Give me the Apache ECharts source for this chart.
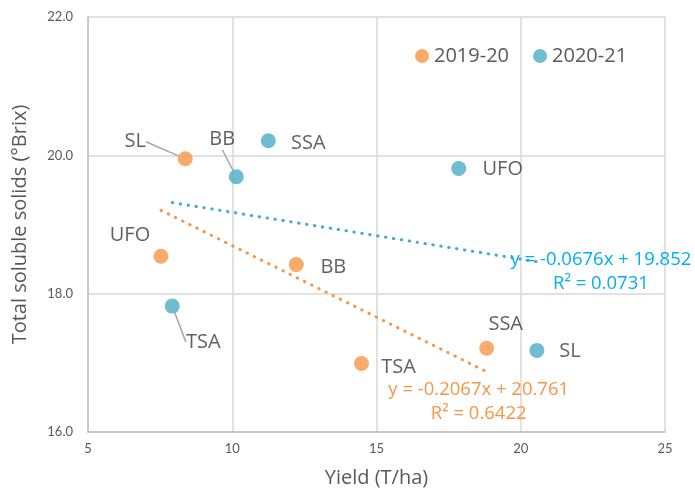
<!DOCTYPE html>
<html>
<head>
<meta charset="utf-8">
<script src="https://cdn.jsdelivr.net/npm/echarts@6/dist/echarts.min.js"></script>
<style>
  html, body { margin: 0; padding: 0; background: #fff; }
  #chart { width: 695px; height: 493px; }
</style>
</head>
<body>
<div id="chart"></div>
<script>
  // 2019-20 season
  const names1920 = ['SL', 'UFO', 'BB', 'TSA', 'SSA'];
  const yield1920 = [8.37, 7.53, 12.22, 14.48, 18.82];
  const tss1920 = [19.95, 18.54, 18.42, 16.99, 17.21];
  // 2020-21 season
  const names2021 = ['BB', 'SSA', 'UFO', 'TSA', 'SL'];
  const yield2021 = [10.14, 11.25, 17.85, 7.92, 20.56];
  const tss2021 = [19.69, 20.21, 19.81, 17.82, 17.18];
  // trend lines (from the equations shown on the chart)
  const trend1920 = { slope: -0.2067, intercept: 20.761, r2: '0.6422' };
  const trend2021 = { slope: -0.0676, intercept: 19.852, r2: '0.0731' };

  // label offsets (px) relative to each point, and which ones have a leader line
  const offs1920 = [[-50, -17], [-31, -21], [37, 3], [37, 4], [19, -24]];
  const lead1920 = [true, false, false, false, false];
  const offs2021 = [[-14, -37], [40, 2], [44, 1], [31, 36], [33, 1]];
  const lead2021 = [true, false, false, true, false];

  const orange = '#F79646';
  const blue = '#4BACC6';

  function pts(xs, ys, names, leads) {
    return xs.map((x, i) => ({
      value: [x, ys[i]],
      name: names[i],
      labelLine: { show: leads[i] }
    }));
  }

  function trendData(t, xs) {
    const lo = Math.min.apply(null, xs), hi = Math.max.apply(null, xs);
    return [[lo, t.slope * lo + t.intercept], [hi, t.slope * hi + t.intercept]];
  }

  function eqText(t) {
    return 'y = ' + t.slope.toFixed(4) + 'x + ' + t.intercept.toFixed(3) + '\nR² = ' + t.r2;
  }

  const lblStyle = {
    show: true,
    position: 'inside',
    formatter: '{b}',
    fontFamily: 'Open Sans',
    fontSize: 20,
    color: '#3a3a3a'
  };

  let chart = echarts.init(document.getElementById('chart'));
  const t19 = trendData(trend1920, yield1920);
  const t20 = trendData(trend2021, yield2021);

  chart.setOption({
    animation: false,
    grid: { left: 88, right: 30, top: 17, bottom: 60 },
    legend: {
      left: 410, top: 41,
      icon: 'circle', itemWidth: 14, itemHeight: 14, itemGap: 24, itemTextGap: 4,
      textStyle: { fontFamily: 'Open Sans', fontSize: 20, color: '#595959' },
      data: ['2019-20', '2020-21']
    },
    xAxis: {
      type: 'value', min: 5, max: 25, interval: 5,
      name: 'Yield (T/ha)', nameLocation: 'middle', nameGap: 36,
      nameTextStyle: { fontFamily: 'Open Sans', fontSize: 20, color: '#595959' },
      axisLine: { lineStyle: { color: '#BFBFBF', width: 1.5 } },
      axisTick: { show: false },
      axisLabel: { fontFamily: 'Lato', fontSize: 13, color: '#595959', margin: 10 },
      splitLine: { lineStyle: { color: '#D9D9D9', width: 1.5 } }
    },
    yAxis: {
      type: 'value', min: 16, max: 22, interval: 2,
      name: 'Total soluble solids (°Brix)', nameLocation: 'middle', nameGap: 58,
      nameTextStyle: { fontFamily: 'Open Sans', fontSize: 20, color: '#595959' },
      axisLine: { show: true, lineStyle: { color: '#BFBFBF', width: 1.5 } },
      axisTick: { show: false },
      axisLabel: { fontFamily: 'Lato', fontSize: 13, color: '#595959', margin: 15,
        formatter: v => v.toFixed(1) },
      splitLine: { lineStyle: { color: '#D9D9D9', width: 1.5 } }
    },
    series: [
      {
        name: '2019-20 trend', type: 'line', data: t19,
        symbol: 'none', silent: true, z: 1,
        lineStyle: { color: orange, width: 3, type: [0.5, 7.5], cap: 'round' },
        label: { show: false },
        endLabel: {
          show: true, formatter: eqText(trend1920),
          fontFamily: 'Open Sans', fontSize: 18.5, color: orange,
          align: 'center', lineHeight: 24, offset: [-16, 30]
        }
      },
      {
        name: '2020-21 trend', type: 'line', data: t20,
        symbol: 'none', silent: true, z: 1,
        lineStyle: { color: '#4BACC6', width: 3, type: [0.5, 7.5], cap: 'round' },
        endLabel: {
          show: true, formatter: eqText(trend2021),
          fontFamily: 'Open Sans', fontSize: 18.5, color: '#00B0F0',
          align: 'center', lineHeight: 24, offset: [56, 10]
        }
      },
      {
        name: '2019-20', type: 'scatter', symbolSize: 15, z: 3,
        itemStyle: { color: orange },
        data: pts(yield1920, tss1920, names1920, lead1920),
        label: lblStyle,
        labelLine: { lineStyle: { color: '#A6A6A6', width: 1.5 } },
        labelLayout: p => ({ dx: offs1920[p.dataIndex][0], dy: offs1920[p.dataIndex][1] })
      },
      {
        name: '2020-21', type: 'scatter', symbolSize: 15, z: 3,
        itemStyle: { color: blue },
        data: pts(yield2021, tss2021, names2021, lead2021),
        label: lblStyle,
        labelLine: { lineStyle: { color: '#A6A6A6', width: 1.5 } },
        labelLayout: p => ({ dx: offs2021[p.dataIndex][0], dy: offs2021[p.dataIndex][1] })
      }
    ]
  });
</script>
</body>
</html>
